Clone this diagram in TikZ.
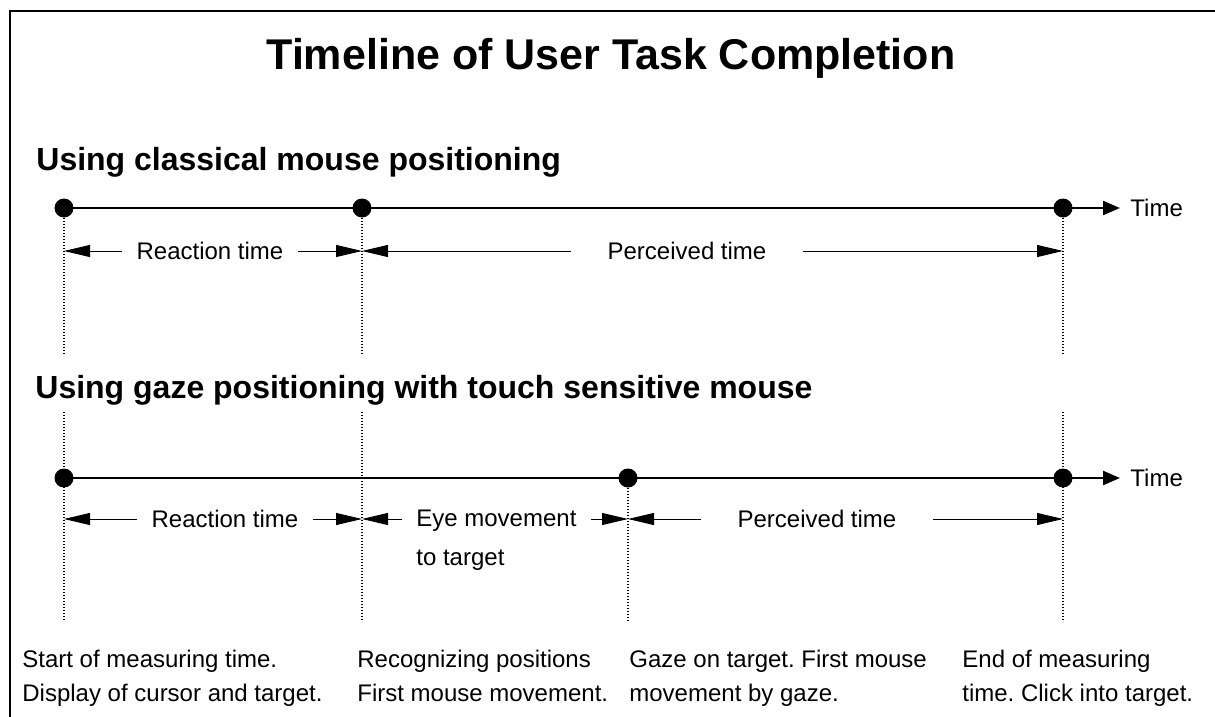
\documentclass[tikz,border=0pt]{standalone}
\usepackage{fontspec}
\setmainfont{Liberation Sans}
\usetikzlibrary{positioning,arrows.meta}
\frenchspacing

\begin{document}
\begin{tikzpicture}[x=0.5pt,y=-0.5pt,
  every node/.style={inner sep=0pt,font=\fontsize{12}{14}\selectfont},
  timeline/.style={line width=1.2pt,-{Triangle[length=8.5pt,width=7pt]}},
  span/.style={line width=0.5pt,-{Triangle[length=13pt,width=6pt]}},
  marker/.style={line width=0.6pt,dash pattern=on 0.6pt off 0.9pt},
  event/.style={circle,fill,minimum size=9.5pt},
  spanlabel/.style={inner xsep=7pt},
  heading/.style={anchor=base west,font=\bfseries\fontsize{16}{19}\selectfont},
  note/.style={anchor=north west,align=left,font=\fontsize{12}{17}\selectfont}]
  \useasboundingbox (0,0) rectangle (1215,717);
  % frame, open to the right and bottom
  \draw[line width=1pt] (10,717) -- (10,11) -- (1215,11);
  % title and headings
  \node[anchor=base,font=\bfseries\fontsize{21.5}{26}\selectfont] (title) at (611,70) {Timeline of User Task Completion};
  \node[heading] (headA) at (36,170) {Using classical mouse positioning};
  \node[heading] (headB) at (35,398) {Using gaze positioning with touch sensitive mouse};

  % classical mouse positioning
  \node[event] (a1) at (64,208) {};
  \node[event] (a2) at (362,208) {};
  \node[event] (a3) at (1063,208) {};
  \coordinate (aEnd) at (1120,208);
  \draw[timeline] (a1.center) -- (aEnd);
  \node[right=5pt of aEnd] (timeA) {Time};
  \foreach \n/\x in {1/64,2/362,3/1063} {
    \coordinate (a\n low) at (\x,353);
    \draw[marker] (a\n) -- (a\n low);
    \coordinate (ta\n) at (\x,251);
  }
  \node[spanlabel] (reactA) at (210,251) {Reaction time};
  \node[spanlabel,inner xsep=18pt] (percA) at (687,251) {Perceived time};
  \draw[span] (reactA.west) -- (ta1);
  \draw[span] (reactA.east) -- (ta2);
  \draw[span] (percA.west) -- (ta2);
  \draw[span] (percA.east) -- (ta3);

  % gaze positioning with touch sensitive mouse
  \node[event] (b1) at (64,478) {};
  \node[event] (b2) at (628,478) {};
  \node[event] (b3) at (1063,478) {};
  \coordinate (bEnd) at (1120,478);
  \draw[timeline] (b1.center) -- (bEnd);
  \node[right=5pt of bEnd] (timeB) {Time};
  \foreach \n/\x in {1/64,2/362,3/628,4/1063} {
    \coordinate (b\n top) at (\x,412);
    \coordinate (b\n low) at (\x,622);
    \coordinate (tb\n) at (\x,519);
  }
  \draw[marker] (b1top) -- (b1low);
  \draw[marker] (b2top) -- (b2low);
  \draw[marker] (b2) -- (b3low);
  \draw[marker] (b4top) -- (b4low);
  \node[spanlabel] (reactB) at (225,519) {Reaction time};
  \node[spanlabel,anchor=north west,align=left,font=\fontsize{12}{19.5}\selectfont] (eye) at (402,510) {Eye movement\\to target};
  \node[spanlabel,inner xsep=18pt] (percB) at (817,519) {Perceived time};
  \draw[span] (reactB.west) -- (tb1);
  \draw[span] (reactB.east) -- (tb2);
  \draw[span] (eye.west |- tb2) -- (tb2);
  \draw[span] (eye.east |- tb3) -- (tb3);
  \draw[span] (percB.west) -- (tb3);
  \draw[span] (percB.east) -- (tb4);

  % what happens at each event
  \node[note] (noteStart) at (22,650) {Start of measuring time.\\Display of cursor and target.};
  \node[note] (noteMove) at (357,650) {Recognizing positions\\First mouse movement.};
  \node[note] (noteGaze) at (629,650) {Gaze on target. First mouse\\movement by gaze.};
  \node[note] (noteEnd) at (962,650) {End of measuring\\time. Click into target.};
\end{tikzpicture}
\end{document}
